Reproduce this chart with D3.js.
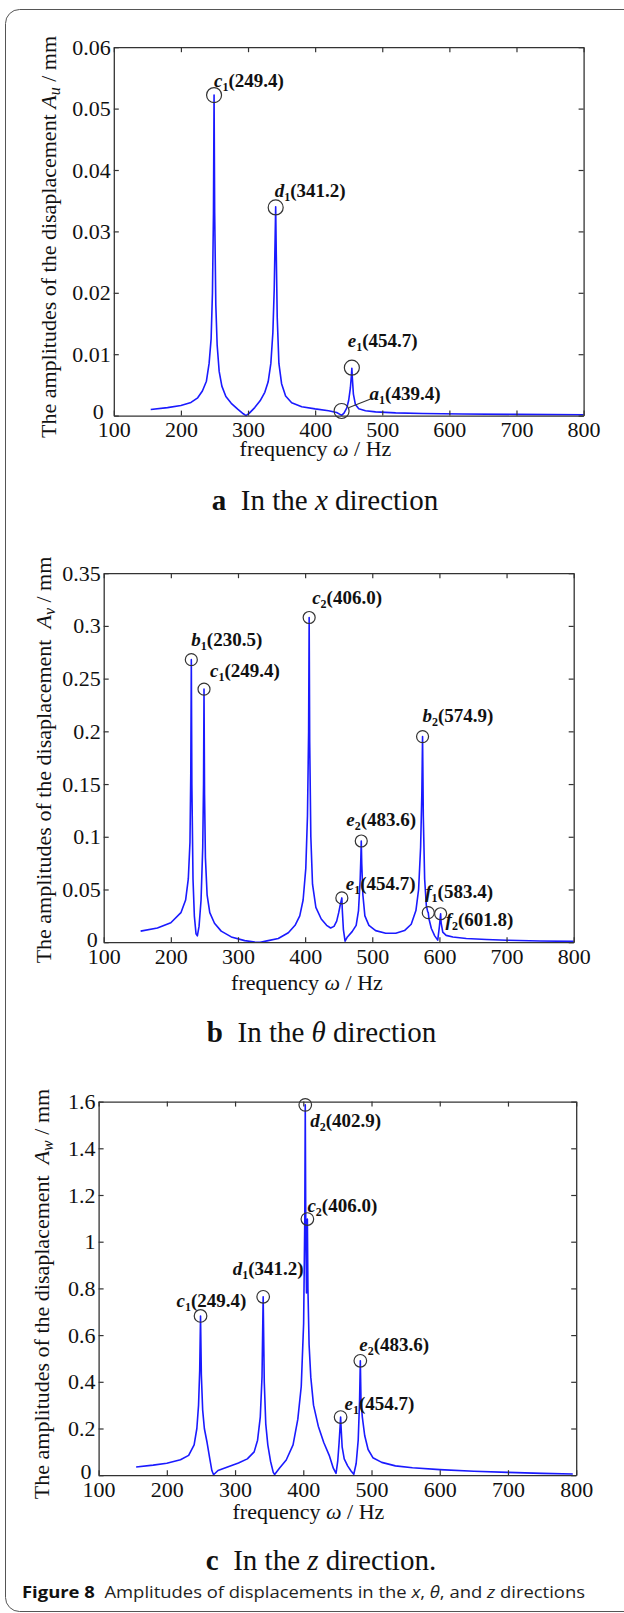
<!DOCTYPE html>
<html>
<head>
<meta charset="utf-8">
<script src="https://cdn.jsdelivr.net/npm/d3@7"></script>
<style>
  body { margin: 0; background: #fff; }
  svg { display: block; }
  text { white-space: pre; }
</style>
</head>
<body>
<div id="figure"></div>
<script>
// ---- data ----
const xTicks = [100, 200, 300, 400, 500, 600, 700, 800];
const yTicksA = [0, 0.01, 0.02, 0.03, 0.04, 0.05, 0.06];
const yTicksB = [0, 0.05, 0.1, 0.15, 0.2, 0.25, 0.3, 0.35];
const yTicksC = [0, 0.2, 0.4, 0.6, 0.8, 1, 1.2, 1.4, 1.6];

// (a) x direction
const freqA = [155, 180, 200, 215, 225, 232, 238, 242, 245, 247, 248.5, 249.4, 250.3, 252, 254, 257, 261, 267, 275, 285, 293, 297,
  302, 310, 318, 325, 330, 334, 337, 339, 340.4, 341.2, 342, 343.5, 346, 350, 356, 365, 380, 400, 420, 432, 437, 439.4,
  443, 447, 450, 452.5, 454, 454.7, 455.5, 457, 460, 465, 475, 490, 520, 560, 620, 700, 800];
const ampA = [0.0010, 0.0013, 0.00165, 0.00215, 0.0029, 0.0040, 0.0056, 0.0085, 0.0125, 0.020, 0.033, 0.0522, 0.033, 0.018,
  0.0115, 0.0072, 0.0048, 0.0031, 0.0020, 0.0010, 0.0003, 0.0000,
  0.0004, 0.0013, 0.0024, 0.0038, 0.0055, 0.0085, 0.0135, 0.0205, 0.029, 0.0340, 0.027, 0.016, 0.0085, 0.0052, 0.0032,
  0.0021, 0.00145, 0.0011, 0.0008, 0.0005, 0.0002, 0.00005,
  0.0004, 0.0012, 0.0025, 0.0045, 0.0065, 0.0077, 0.0060, 0.0035, 0.0018, 0.0011, 0.0008, 0.0006, 0.00045, 0.00035,
  0.00025, 0.0002, 0.00015];
const peakNameA = ["c", "d", "e", "a"];
const peakSubA = ["1", "1", "1", "1"];
const peakFreqA = [249.4, 341.2, 454.7, 439.4];
const peakAmpA = [0.0522, 0.0339, 0.0078, 0.00075];

// (b) theta direction
const freqB = [155, 180, 200, 215, 222, 226, 228.5, 229.7, 230.5, 231.3, 233, 235, 237.5, 239.5, 242, 245, 247.5, 248.7,
  249.4, 250.2, 251.5, 254, 258, 265, 275, 290, 310, 325, 333, 345, 360, 375, 385, 392, 397, 401, 403.5, 405.2, 406,
  406.8, 408.5, 411, 416, 424, 432, 438, 443, 447, 450, 452.5, 454, 454.7, 455.4, 457, 459.5, 463, 470, 476, 479.5,
  482, 483, 483.6, 484.3, 486, 489, 495, 505, 520, 535, 548, 558, 565, 569, 572, 573.8, 574.9, 576, 578, 580.5, 582.5,
  583.4, 584.5, 588, 593, 597.5, 600, 601, 601.8, 602.6, 605, 610, 620, 640, 670, 700, 750, 800];
const ampB = [0.0105, 0.0135, 0.0185, 0.028, 0.040, 0.060, 0.095, 0.160, 0.268, 0.150, 0.060, 0.025, 0.008, 0.006, 0.015,
  0.040, 0.090, 0.150, 0.240, 0.140, 0.080, 0.045, 0.028, 0.018, 0.0105, 0.005, 0.0015, 0.0002, 0.0, 0.0015, 0.0035,
  0.009, 0.016, 0.025, 0.040, 0.070, 0.120, 0.200, 0.308, 0.190, 0.100, 0.055, 0.033, 0.022, 0.016, 0.0135, 0.015,
  0.020, 0.028, 0.036, 0.040, 0.042, 0.030, 0.012, 0.001, 0.005, 0.010, 0.016, 0.030, 0.060, 0.080, 0.096, 0.075,
  0.045, 0.025, 0.016, 0.011, 0.0085, 0.0085, 0.011, 0.017, 0.030, 0.050, 0.090, 0.140, 0.195, 0.120, 0.060, 0.035,
  0.029, 0.028, 0.022, 0.013, 0.006, 0.002, 0.015, 0.022, 0.027, 0.018, 0.0095, 0.0065, 0.0050, 0.0035, 0.0025,
  0.0019, 0.0012, 0.0008];
const peakNameB = ["b", "c", "c", "b", "e", "e", "f", "f"];
const peakSubB = ["1", "1", "2", "2", "2", "1", "1", "2"];
const peakFreqB = [230.5, 249.4, 406.0, 574.9, 483.6, 454.7, 583.4, 601.8];
const peakAmpB = [0.268, 0.240, 0.308, 0.195, 0.096, 0.042, 0.028, 0.027];

// (c) z direction
const freqC = [155, 180, 200, 220, 232, 240, 244, 246.5, 248.2, 249.4, 250.6, 252.5, 255, 259, 263, 266, 268.5, 275, 290,
  305, 318, 328, 333, 337, 339.5, 341.2, 342.8, 345, 348, 352, 356, 358, 365, 375, 385, 392, 397, 400.5, 402.2, 402.9,
  403.6, 404.7, 405.4, 406, 406.8, 408.5, 411, 415, 422, 430, 438, 444, 448, 450.5, 452.5, 454, 454.7, 455.5, 457, 460,
  465, 470, 474, 477.5, 480.5, 482.5, 483.6, 484.6, 486.5, 490, 495, 502, 515, 535, 560, 600, 650, 700, 750, 795];
const ampC = [0.035, 0.043, 0.051, 0.066, 0.085, 0.130, 0.200, 0.300, 0.450, 0.682, 0.430, 0.280, 0.200, 0.140, 0.070,
  0.020, 0.002, 0.020, 0.036, 0.052, 0.070, 0.100, 0.150, 0.250, 0.420, 0.764, 0.400, 0.220, 0.130, 0.060, 0.012,
  0.003, 0.030, 0.065, 0.130, 0.240, 0.380, 0.650, 1.100, 1.586, 1.100, 0.780, 0.950, 1.097, 0.800, 0.560, 0.420,
  0.300, 0.210, 0.140, 0.085, 0.030, 0.008, 0.060, 0.140, 0.210, 0.249, 0.200, 0.120, 0.070, 0.040, 0.018, 0.004,
  0.050, 0.150, 0.320, 0.490, 0.320, 0.250, 0.170, 0.110, 0.075, 0.055, 0.040, 0.032, 0.024, 0.017, 0.012, 0.008, 0.005];
const peakNameC = ["c", "d", "d", "c", "e", "e"];
const peakSubC = ["1", "1", "2", "2", "2", "1"];
const peakFreqC = [249.4, 341.2, 402.9, 406.0, 483.6, 454.7];
const peakAmpC = [0.682, 0.764, 1.586, 1.097, 0.490, 0.249];

// ---- layout ----
const serif = "'Liberation Serif', 'Times New Roman', serif";
const svg = d3.select("#figure").append("svg")
  .attr("width", 624)
  .attr("height", 1613);

// rounded frame of the figure (right side runs off the page)
svg.append("rect")
  .attr("x", 5.5).attr("y", 9.5)
  .attr("width", 700).attr("height", 1602)
  .attr("rx", 14)
  .attr("fill", "none")
  .attr("stroke", "#555")
  .attr("stroke-width", 1);

function fmtTick(d) {
  return d === 0 ? "0" : String(+d.toFixed(2));
}

function drawPanel(p) {
  const x = d3.scaleLinear().domain([100, 800]).range([p.left, p.right]);
  const y = d3.scaleLinear().domain([0, p.yMax]).range([p.bottom, p.top]);
  const g = svg.append("g");

  // response curve
  const pts = p.freq.map((f, i) => [f, p.amp[i]]);
  g.append("path")
    .datum(pts)
    .attr("fill", "none")
    .attr("stroke", "#1a1aff")
    .attr("stroke-width", 1.6)
    .attr("stroke-linejoin", "round")
    .attr("d", d3.line().x(d => x(d[0])).y(d => y(d[1])));

  // box axes, ticks pointing inward
  const bottom = g.append("g")
    .attr("transform", `translate(0,${p.bottom})`)
    .call(d3.axisBottom(x).tickValues(xTicks).tickSize(-5).tickSizeOuter(0).tickPadding(6));
  const left = g.append("g")
    .attr("transform", `translate(${p.left},0)`)
    .call(d3.axisLeft(y).tickValues(p.yTicks).tickSize(-5).tickSizeOuter(0).tickPadding(3).tickFormat(fmtTick));
  g.append("g")
    .attr("transform", `translate(0,${p.top})`)
    .call(d3.axisTop(x).tickValues(xTicks).tickSize(-5).tickSizeOuter(0).tickFormat(""));
  g.append("g")
    .attr("transform", `translate(${p.right},0)`)
    .call(d3.axisRight(y).tickValues(p.yTicks).tickSize(-5).tickSizeOuter(0).tickFormat(""));

  g.selectAll(".domain").attr("stroke", "#333").attr("stroke-width", 1.3);
  g.selectAll(".tick line").attr("stroke", "#333").attr("stroke-width", 1.2);
  [bottom, left].forEach(a => a.attr("font-family", serif).attr("font-size", 22));
  g.selectAll(".tick text").attr("fill", "#111");
  // the zero label sits a little up and left of the corner, as in the original
  left.selectAll(".tick text").filter(d => d === 0)
    .attr("dx", p.zeroDx)
    .attr("y", -p.zeroUp);

  // peak markers
  p.peakFreq.forEach((f, i) => {
    const cx = x(f), cy = y(p.peakAmp[i]);
    g.append("circle")
      .attr("cx", cx).attr("cy", cy).attr("r", p.r)
      .attr("fill", "none")
      .attr("stroke", "#333")
      .attr("stroke-width", 1.2);
    const o = p.labelPos[i];
    const t = g.append("text")
      .attr("x", cx + o[0]).attr("y", cy + o[1])
      .attr("text-anchor", o[2] || "start")
      .attr("font-family", serif)
      .attr("font-weight", "bold")
      .attr("font-size", 19)
      .attr("fill", "#111");
    t.append("tspan").attr("font-style", "italic").text(p.peakName[i]);
    t.append("tspan").attr("font-size", 12).attr("dy", 4).text(p.peakSub[i]);
    t.append("tspan").attr("dy", -4).text(`(${p.peakFreq[i].toFixed(1)})`);
    if (o[3]) {
      g.append("line")
        .attr("x1", cx + 7.5).attr("y1", cy - 3.5)
        .attr("x2", cx + o[0] + 1).attr("y2", cy + o[1] - 1)
        .attr("stroke", "#333").attr("stroke-width", 1.1);
    }
  });

  // y axis title
  const yt = g.append("text")
    .attr("transform", `translate(${p.yTitleX},${p.yTitleY}) rotate(-90)`)
    .attr("text-anchor", "middle")
    .attr("font-family", serif)
    .attr("font-size", 22)
    .attr("fill", "#111");
  yt.append("tspan").text(p.yTitle);
  yt.append("tspan").attr("font-style", "italic").text("A");
  yt.append("tspan").attr("font-style", "italic").attr("font-size", 16).attr("dy", 4).text(p.ySub);
  yt.append("tspan").attr("dy", -4).text(" / mm");

  // x axis title
  const xt = g.append("text")
    .attr("x", p.xTitleX).attr("y", p.xTitleY)
    .attr("text-anchor", "middle")
    .attr("font-family", serif)
    .attr("font-size", 22)
    .attr("fill", "#111");
  xt.append("tspan").text("frequency ");
  xt.append("tspan").attr("font-style", "italic").text("\u03c9");
  xt.append("tspan").text(" / Hz");

  // panel caption
  const cap = g.append("text")
    .attr("x", p.capX).attr("y", p.capY)
    .attr("text-anchor", "middle")
    .attr("font-family", serif)
    .attr("font-size", 29)
    .attr("fill", "#111");
  cap.append("tspan").attr("font-weight", "bold").text(p.capLetter);
  cap.append("tspan").text("  In the ");
  cap.append("tspan").attr("font-style", "italic").text(p.capVar);
  cap.append("tspan").text(p.capTail);
}

drawPanel({
  left: 113.8, right: 583.6, top: 47.2, bottom: 415.6, yMax: 0.06, yTicks: yTicksA, zeroDx: -7, zeroUp: 4,
  freq: freqA, amp: ampA,
  peakName: peakNameA, peakSub: peakSubA, peakFreq: peakFreqA, peakAmp: peakAmpA, r: 7.5,
  labelPos: [[0, -8], [-1, -10.5], [-4, -21], [28, -11, "start", true]],
  yTitle: "The amplitudes of the disaplacement ", ySub: "u", yTitleX: 55.5, yTitleY: 237,
  xTitleX: 315.5, xTitleY: 456,
  capLetter: "a", capVar: "x", capTail: " direction", capX: 325, capY: 509.5
});

drawPanel({
  left: 103.7, right: 573.7, top: 573.2, bottom: 942.2, yMax: 0.35, yTicks: yTicksB, zeroDx: -3, zeroUp: 3,
  freq: freqB, amp: ampB,
  peakName: peakNameB, peakSub: peakSubB, peakFreq: peakFreqB, peakAmp: peakAmpB, r: 6,
  labelPos: [[0, -14], [6, -12], [3, -13], [0, -15], [-15, -15], [4, -8], [-3, -15], [5, 12]],
  yTitle: "The amplitudes of the disaplacement  ", ySub: "v", yTitleX: 51, yTitleY: 760,
  xTitleX: 307, xTitleY: 990,
  capLetter: "b", capVar: "\u03b8", capTail: " direction", capX: 321.5, capY: 1042
});

drawPanel({
  left: 98.6, right: 576.2, top: 1101.6, bottom: 1475.2, yMax: 1.6, yTicks: yTicksC, zeroDx: -4, zeroUp: 4,
  freq: freqC, amp: ampC,
  peakName: peakNameC, peakSub: peakSubC, peakFreq: peakFreqC, peakAmp: peakAmpC, r: 6.3,
  labelPos: [[45.8, -9, "end"], [40.5, -22, "end"], [5, 22], [0, -7.5], [-1, -9.5], [4, -7]],
  yTitle: "The amplitudes of the disaplacement  ", ySub: "w", yTitleX: 49, yTitleY: 1294,
  xTitleX: 308.4, xTitleY: 1519,
  capLetter: "c", capVar: "z", capTail: " direction.", capX: 321, capY: 1570
});

// figure caption
const figCap = svg.append("text")
  .attr("x", 22).attr("y", 1598)
  .attr("font-family", "'Open Sans', 'Noto Sans', sans-serif")
  .attr("font-size", 16)
  .attr("fill", "#222")
  .attr("textLength", 563)
  .attr("lengthAdjust", "spacingAndGlyphs");
figCap.append("tspan").attr("font-weight", "bold").attr("fill", "#111").text("Figure 8");
figCap.append("tspan").text("  Amplitudes of displacements in the ");
figCap.append("tspan").attr("font-style", "italic").text("x");
figCap.append("tspan").text(", ");
figCap.append("tspan").attr("font-style", "italic").text("\u03b8");
figCap.append("tspan").text(", and ");
figCap.append("tspan").attr("font-style", "italic").text("z");
figCap.append("tspan").text(" directions");
</script>
</body>
</html>
